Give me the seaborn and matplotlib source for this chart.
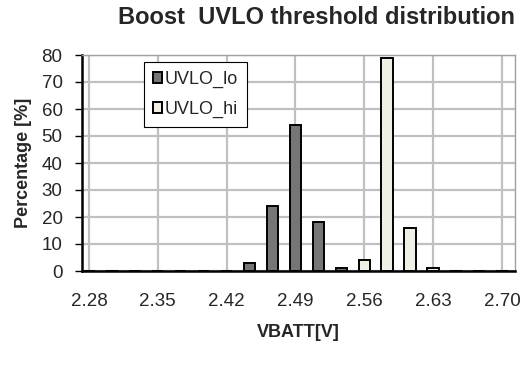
import matplotlib
matplotlib.use("Agg")
import matplotlib.pyplot as plt
import seaborn as sns
import pandas as pd
import numpy as np
from matplotlib.patches import Patch

sns.set_theme(style="white")
plt.rcParams['font.family'] = ['Liberation Sans', 'DejaVu Sans']

categories = ["2.28", "2.30", "2.33", "2.35", "2.37", "2.40", "2.42", "2.44", "2.47", "2.49",
              "2.51", "2.54", "2.56", "2.58", "2.61", "2.63", "2.65", "2.68", "2.70"]
uvlo_lo = [0, 0, 0, 0, 0, 0, 0, 3, 24, 54, 18, 1, 0, 0, 0, 0, 0, 0, 0]
uvlo_hi = [0, 0, 0, 0, 0, 0, 0, 0, 0, 0, 0, 0, 4, 79, 16, 1, 0, 0, 0]
tick_labels = ["2.28", "2.35", "2.42", "2.49", "2.56", "2.63", "2.70"]

df = pd.DataFrame({
    "VBATT": categories * 2,
    "pct": uvlo_lo + uvlo_hi,
    "series": ["UVLO_lo"] * len(categories) + ["UVLO_hi"] * len(categories),
})

W, H = 522, 366
left, right, top, bottom = 82, 515, 55, 271
fig = plt.figure(figsize=(W/100, H/100), dpi=100)
ax = fig.add_axes([left/W, 1 - bottom/H, (right-left)/W, (bottom-top)/H])

colors = {"UVLO_lo": "#767676", "UVLO_hi": "#F2F0E4"}
sns.barplot(data=df, x="VBATT", y="pct", hue="series", palette=colors,
            order=categories, hue_order=["UVLO_lo", "UVLO_hi"],
            dodge=False, width=0.5, edgecolor="black", linewidth=1.4,
            legend=False, ax=ax, zorder=3)

ax.set_ylim(0, 80)
ax.set_xlim(-0.3, len(categories) - 0.43)
ax.set_yticks(np.arange(0, 81, 10))
tick_pos = [categories.index(t) for t in tick_labels]
ax.set_xticks(tick_pos)
ax.set_xticklabels(tick_labels, fontsize=13.5)
ax.tick_params(axis='x', length=0, pad=16)
ax.tick_params(axis='y', labelsize=13.5, length=5, width=1, color="black", direction="out", left=True, pad=9)
ax.grid(True, color="#c0c0c0", linewidth=1.6, zorder=0)
ax.set_axisbelow(True)
for s in ["top", "right"]:
    ax.spines[s].set_color("#a0a0a0")
    ax.spines[s].set_linewidth(1.0)
ax.spines["left"].set_color("black")
ax.spines["left"].set_linewidth(1.8)
ax.spines["bottom"].set_color("black")
ax.spines["bottom"].set_linewidth(1.8)

ax.set_ylabel("Percentage [%]", fontsize=13, fontweight="bold", labelpad=7)
ax.set_xlabel("VBATT[V]", fontsize=13, fontweight="bold", labelpad=10)

handles = [Patch(facecolor=colors["UVLO_lo"], edgecolor="black", linewidth=1.4, label="UVLO_lo"),
           Patch(facecolor=colors["UVLO_hi"], edgecolor="black", linewidth=1.4, label="UVLO_hi")]
leg = ax.legend(handles=handles, loc="upper left",
                bbox_to_anchor=((144-left)/(right-left), 1 - (62-top)/(bottom-top)),
                fontsize=13, frameon=True, fancybox=False, edgecolor="black", framealpha=1,
                handlelength=0.5, handleheight=0.5, handletextpad=0.15, labelspacing=0.7,
                borderpad=0.5, borderaxespad=0)
leg.get_frame().set_linewidth(0.8)

fig.text(317/W, 1 - 18/H, "Boost  UVLO threshold distribution", ha="center", va="center",
         fontsize=17, fontweight="bold")

fig.savefig("out.png", dpi=100)
